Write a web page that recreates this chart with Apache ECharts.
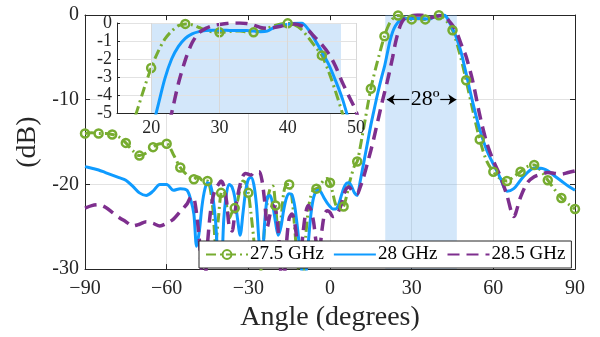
<!DOCTYPE html>
<html><head><meta charset="utf-8">
<script src="https://cdn.jsdelivr.net/npm/echarts@6/dist/echarts.min.js"></script>
<style>html,body{margin:0;padding:0;background:#fff}#c{width:600px;height:337px}</style>
</head><body><div id="c"></div>
<script>
// Angle grid (degrees)
const angles = [-90,-87.5,-85,-82.5,-80,-77.5,-75,-72.5,-70,-67.5,-65,-62.5,-60,-57.5,-55,-52.5,-51,
-50,-49,-48,-47,-46,-45,-44,-43,-42,-41,-40,-39,-38,-37,-36,-35,-34,-33,-32,-31,-30,-29,-28,-27,-26,-25,-24,-23,-22,-21,
-20,-19,-18,-17,-16,-15,-14,-13,-12,-11,-10,-9,-8,-7,-6,-5,-4,-3,-2,-1,0,1,2,3,4,5,6,7,8,9,
10,11,12,13,14,15,16,17,18,19,20,21,22,23,24,25,26,27,28,29,30,31,32,33,34,35,36,37,38,39,40,41,42,43,44,45,46,47,48,49,50,
52.5,55,57.5,60,62.5,65,67.5,70,72.5,75,77.5,80,82.5,85,87.5,90];

// 27.5 GHz (dB)
const g275 = [-14.0,-13.9,-14.0,-14.0,-14.1,-14.4,-15.1,-16.0,-16.6,-16.3,-15.6,-15.2,-15.2,-16.5,-18.0,-18.9,-19.3,
-19.4,-19.1,-19.2,-19.5,-19.6,-19.6,-20.5,-23.0,-27.0,-24.0,-21.0,-20.8,-22.5,-24.0,-23.3,-22.8,-22.0,-20.5,-19.6,-19.8,-21.0,-23.5,-26.5,-30.5,-31.0,-29.0,-25.0,-22.0,-20.5,-20.2,
-22.5,-25.5,-24.0,-21.0,-20.0,-20.0,-21.5,-25.0,-29.0,-31.0,-31.5,-26.5,-23.0,-21.3,-20.6,-20.5,-20.3,-19.8,-19.4,-19.3,-19.8,-21.0,-22.3,-22.8,-22.9,-22.6,-21.5,-20.0,-18.8,-17.8,
-17.3,-15.8,-14.0,-12.2,-10.4,-8.7,-7.3,-6.0,-4.8,-3.6,-2.5,-1.6,-0.9,-0.45,-0.15,-0.05,-0.1,-0.25,-0.4,-0.5,-0.52,-0.5,-0.45,-0.45,-0.5,-0.52,-0.45,-0.3,-0.15,-0.05,-0.02,-0.1,-0.35,-0.8,-1.3,-1.8,-2.7,-3.8,-5.0,-6.3,-7.7,
-11.3,-14.7,-17.2,-18.5,-19.3,-19.6,-19.1,-18.5,-17.9,-17.7,-18.4,-19.5,-20.6,-21.6,-22.3,-22.9];

// 28 GHz (dB)
const g28 = [-17.9,-18.1,-18.3,-18.6,-18.9,-19.2,-19.5,-20.2,-21.0,-21.3,-20.8,-20.0,-20.0,-20.7,-20.5,-20.7,-22.0,
-23.5,-27.3,-25.5,-22.5,-20.6,-19.8,-20.0,-21.5,-24.5,-29.0,-29.5,-24.0,-21.0,-20.0,-20.3,-21.5,-24.0,-26.0,-23.5,-20.8,-19.4,-19.2,-20.0,-22.5,-27.0,-29.0,-24.5,-21.5,-21.3,-22.5,
-24.5,-26.0,-25.0,-23.0,-21.6,-21.1,-21.2,-22.5,-25.0,-28.0,-30.5,-30.5,-27.0,-23.5,-21.5,-20.8,-20.7,-21.1,-21.7,-22.2,-22.6,-22.9,-22.9,-22.5,-21.5,-20.5,-19.9,-19.8,-20.3,-21.0,
-21.3,-19.8,-18.1,-16.4,-14.7,-13.0,-11.5,-10.0,-8.6,-7.3,-6.1,-4.6,-3.1,-2.0,-1.3,-0.85,-0.6,-0.48,-0.42,-0.4,-0.4,-0.4,-0.42,-0.42,-0.42,-0.45,-0.48,-0.45,-0.25,-0.12,-0.08,-0.02,0,-0.35,-0.95,-1.6,-2.3,-3.2,-4.2,-5.5,-6.9,
-10.4,-13.5,-15.9,-17.6,-19.2,-20.8,-20.5,-19.5,-18.6,-18.1,-18.1,-18.4,-19.0,-19.6,-20.2,-20.7];

// 28.5 GHz (dB)
const g285 = [-22.8,-22.5,-22.4,-22.7,-23.3,-23.9,-24.4,-24.9,-24.7,-24.4,-24.6,-24.9,-24.6,-24.1,-23.2,-22.3,-21.5,
-21.6,-23.5,-26.5,-30.5,-31.0,-27.0,-23.5,-21.5,-20.5,-20.0,-19.6,-20.2,-22.0,-25.0,-25.5,-23.5,-21.5,-20.0,-19.0,-18.7,-18.8,-18.9,-18.6,-18.5,-18.5,-19.5,-22.0,-25.0,-23.5,-22.5,
-23.0,-25.5,-30.5,-31.0,-27.0,-24.0,-23.5,-24.5,-27.0,-29.5,-26.0,-23.5,-22.5,-23.0,-24.5,-27.0,-28.0,-25.5,-23.5,-23.1,-23.3,-23.8,-23.7,-23.3,-22.5,-21.3,-20.5,-20.3,-20.7,-21.0,
-21.1,-20.4,-19.5,-18.4,-17.2,-16.0,-14.7,-13.3,-11.9,-10.5,-9.2,-7.9,-6.5,-5.0,-3.35,-2.06,-1.1,-0.55,-0.3,-0.15,-0.08,-0.03,0,0,-0.03,-0.12,-0.25,-0.3,-0.25,-0.18,-0.1,-0.05,-0.15,-0.4,-0.8,-1.2,-1.7,-2.4,-3.3,-4.1,-4.9,
-7.9,-11.8,-15.0,-17.2,-19.0,-21.3,-23.8,-21.5,-19.8,-19.1,-18.8,-18.6,-18.7,-18.8,-18.6,-18.4];

const seriesNames = ['27.5 GHz','28 GHz','28.5 GHz'];
const colors = ['#77AC30','#0F9BFF','#7E2F8E'];
const mainBeam = [20.3, 46.6];
const insetBeam = [20, 47.8];
const insetGridX = [20, 30, 40, 50];
const beamLabel = '28º';

const FF = 'Liberation Serif';
const AX = '#262626';

function pairs(v){ return angles.map((a,i)=>[a,v[i]]); }
function greenData(){ return angles.map((a,i)=> (a%5===0) ? [a,g275[i]] : {value:[a,g275[i]], symbol:'none'}); }

function lineSeries(k, xi, yi, z){
  const base = {
    name: seriesNames[k], type:'line', xAxisIndex:xi, yAxisIndex:yi, z:z,
    smooth:0.3, clip:true, silent:true, animation:false,
    emphasis:{disabled:true}
  };
  if(k===0){
    return Object.assign(base,{
      data: greenData(), symbol:'circle', symbolSize:8, showSymbol:true,
      lineStyle:{color:colors[0], width:3, type:[10,4,2,4]},
      itemStyle:{color:'rgba(255,255,255,0)', borderColor:colors[0], borderWidth:2.5}
    });
  }
  if(k===1){
    return Object.assign(base,{
      data: pairs(g28), symbol:'none', showSymbol:false,
      lineStyle:{color:colors[1], width:3, type:'solid'}, itemStyle:{color:colors[1]}
    });
  }
  return Object.assign(base,{
    data: pairs(g285), symbol:'none', showSymbol:false,
    lineStyle:{color:colors[2], width:3.5, type:[12,7]}, itemStyle:{color:colors[2]}
  });
}

const hiddenSym = {color:'rgba(0,0,0,0)', borderWidth:0, borderColor:'rgba(0,0,0,0)'};

const chart = echarts.init(document.getElementById('c'), null, {renderer:'canvas'});
const option = {
  animation:false,
  grid:[
    {left:85, top:15, width:490, height:258, containLabel:false},
    {left:117, top:23, width:239, height:90, containLabel:false}
  ],
  legend:{
    data: [
      {name:seriesNames[0]},
      {name:seriesNames[1], itemStyle:hiddenSym},
      {name:seriesNames[2], itemStyle:hiddenSym}
    ],
    left:199, top:241, orient:'horizontal',
    backgroundColor:'#fff', borderColor:AX, borderWidth:1, borderRadius:0,
    padding:[4,6,4,6], itemWidth:42, itemHeight:11, itemGap:9, z:10,
    textStyle:{fontFamily:FF, fontSize:19, color:'#000', lineHeight:19, padding:[0,0,0,-3]},
    selectedMode:false
  },
  xAxis:[
    {type:'value', gridIndex:0, min:-90, max:90, interval:30, position:'bottom',
     axisLine:{show:true, onZero:false, lineStyle:{color:AX, width:1}},
     axisTick:{show:true, inside:true, length:5, lineStyle:{color:AX}},
     axisLabel:{fontFamily:FF, fontSize:20, color:AX, margin:10, formatter:v=>String(v).replace('-','\u2212')},
     splitLine:{show:true, lineStyle:{color:'#e2e2e2', width:1}},
     name:'Angle (degrees)', nameLocation:'middle', nameGap:31,
     nameTextStyle:{fontFamily:FF, fontSize:28, color:AX}},
    {type:'value', gridIndex:0, min:-90, max:90, interval:30, position:'top',
     axisLine:{show:true, onZero:false, lineStyle:{color:AX, width:1}},
     axisTick:{show:true, inside:true, length:5, lineStyle:{color:AX}},
     axisLabel:{show:false}, splitLine:{show:false}},
    {type:'value', gridIndex:1, min:15, max:50, interval:5, position:'bottom', z:3,
     axisLine:{show:true, onZero:false, lineStyle:{color:AX, width:1}},
     axisTick:{show:true, inside:true, length:3, lineStyle:{color:AX}, customValues:insetGridX},
     axisLabel:{fontFamily:FF, fontSize:18, color:AX, margin:6, showMaxLabel:true, showMinLabel:true,
       formatter:v=> (v%10===0 ? String(v) : '')},
     splitLine:{show:false}}
  ],
  yAxis:[
    {type:'value', gridIndex:0, min:-30, max:0, interval:10, position:'left',
     axisLine:{show:true, onZero:false, lineStyle:{color:AX, width:1}},
     axisTick:{show:true, inside:true, length:5, lineStyle:{color:AX}},
     axisLabel:{fontFamily:FF, fontSize:20, color:AX, margin:6},
     splitLine:{show:true, lineStyle:{color:'#e2e2e2', width:1}},
     name:'(dB)', nameLocation:'middle', nameGap:43,
     nameTextStyle:{fontFamily:FF, fontSize:28, color:AX}},
    {type:'value', gridIndex:0, min:-30, max:0, interval:10, position:'right',
     axisLine:{show:true, onZero:false, lineStyle:{color:AX, width:1}},
     axisTick:{show:true, inside:true, length:5, lineStyle:{color:AX}},
     axisLabel:{show:false}, splitLine:{show:false}},
    {type:'value', gridIndex:1, min:-5, max:0, interval:1, position:'left', z:3,
     axisLine:{show:true, onZero:false, lineStyle:{color:AX, width:1}},
     axisTick:{show:true, inside:true, length:3, lineStyle:{color:AX}},
     axisLabel:{fontFamily:FF, fontSize:18, color:AX, margin:5},
     splitLine:{show:true, lineStyle:{color:'#e2e2e2', width:1}}}
  ],
  graphic:[
    {type:'rect', shape:{x:100, y:21, width:258, height:93}, style:{fill:'#fff'}, z:1, silent:true}
  ],
  series:[
    {type:'line', xAxisIndex:0, yAxisIndex:0, z:1, data:[], silent:true,
     markArea:{silent:true, itemStyle:{color:'rgba(110,175,240,0.3)'},
       data:[[{xAxis:mainBeam[0], yAxis:-30},{xAxis:mainBeam[1], yAxis:0}]]}},
    lineSeries(0,0,0,2), lineSeries(1,0,0,2), lineSeries(2,0,0,2),
    {type:'line', xAxisIndex:0, yAxisIndex:0, z:5, data:[], silent:true,
     markLine:{silent:true, symbol:['none','arrow'], symbolSize:8, label:{show:false},
       lineStyle:{color:'#000', width:1.2, type:'solid'}, emphasis:{disabled:true},
       data:[
         [{coord:[29.1,-10]},{coord:[mainBeam[0]+0.6,-10]}],
         [{coord:[40.5,-10]},{coord:[mainBeam[1]-0.2,-10]}]
       ]},
     markPoint:{silent:true, symbol:'circle', symbolSize:1, itemStyle:{color:'rgba(0,0,0,0)'},
       label:{show:true, position:'inside', formatter:beamLabel, fontFamily:FF, fontSize:22, color:'#000'},
       data:[{coord:[35,-10]}]}},
    {type:'line', xAxisIndex:2, yAxisIndex:2, z:3, data:[], silent:true,
     markArea:{silent:true, itemStyle:{color:'rgba(110,175,240,0.3)'},
       data:[[{xAxis:insetBeam[0], yAxis:-5},{xAxis:insetBeam[1], yAxis:0}]]},
     markLine:{silent:true, symbol:'none', label:{show:false}, emphasis:{disabled:true},
       lineStyle:{color:'#d8d8d8', width:1, type:'solid'},
       data: insetGridX.map(x=>({xAxis:x}))}},
    lineSeries(0,2,2,4), lineSeries(1,2,2,4), lineSeries(2,2,2,4)
  ]
};
chart.setOption(option);
</script>
</body></html>
